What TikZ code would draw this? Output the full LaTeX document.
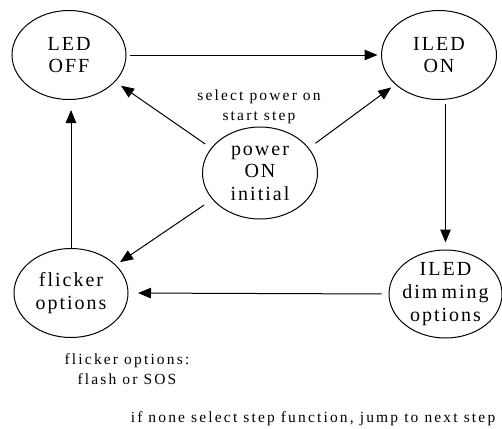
\documentclass[tikz,border=0pt]{standalone}
\usepackage{fontspec}
\setmainfont{Liberation Serif}
\newfontfamily\bigf[LetterSpace=10]{Liberation Serif}
\newfontfamily\smallf[LetterSpace=14]{Liberation Serif}
\usetikzlibrary{shapes.geometric,arrows.meta}
\tikzset{
  st/.style={ellipse,draw,line width=1pt,inner sep=0pt,minimum width=114pt,minimum height=89pt},
  stxt/.style={align=center,inner sep=0pt,font=\bigf\fontsize{20}{22.6}\selectfont},
  lbl/.style={align=center,inner sep=0pt,font=\smallf\fontsize{15.5}{19.5}\selectfont},
  arr/.style={line width=1pt,-{Triangle[length=13pt,width=10.5pt]}},
}
\begin{document}
\begin{tikzpicture}[x=1pt,y=-1pt]
\useasboundingbox (0,0) rectangle (502,428);
\node[st] (ledoff) at (69,55) {};
\node[st,minimum width=115pt] (iledon) at (439,55) {};
\node[st,minimum width=115pt,minimum height=92pt] (power) at (260,173) {};
\node[st] (flicker) at (71,293) {};
\node[st,minimum width=113pt,minimum height=88pt] (dimming) at (445.5,294) {};

\node[stxt] (tledoff) at (ledoff) {LED\\OFF};
\node[stxt] (tiledon) at (iledon) {ILED\\ON};
\node[stxt] (tpower) at (power) {power\\ON\\initial};
\node[stxt] (tflicker) at (flicker) {flicker\\options};
\node[stxt] (tdimming) at (dimming) {ILED\\dim\kern4pt ming\\options};

\node[lbl] (lsel) at (259,107) {select power on\\start step};
\node[lbl] (lfl) at (127,369) {flicker options:\\flash or SOS};
\node[lbl] (lnone) at (313,419) {if none select step function, jump to next step};

\draw[arr,shorten <=3pt,shorten >=3.5pt] (ledoff.east) -- (iledon.west);
\draw[arr,shorten <=7pt,shorten >=7pt] (power.153) -- (ledoff.-30);
\draw[arr,shorten <=8pt,shorten >=5pt] (power.27) -- (iledon.214);
\draw[arr,shorten <=10pt,shorten >=5pt] (power.209) -- (flicker.32);
\draw[arr,shorten >=10pt] (flicker.north) -- (flicker.north |- ledoff.south);
\draw[arr,shorten <=4pt,shorten >=7pt] (iledon.south -| dimming.north) -- (dimming.north);
\draw[arr,shorten <=7pt,shorten >=9.5pt] (dimming.west) -- (flicker.east);
\end{tikzpicture}
\end{document}
